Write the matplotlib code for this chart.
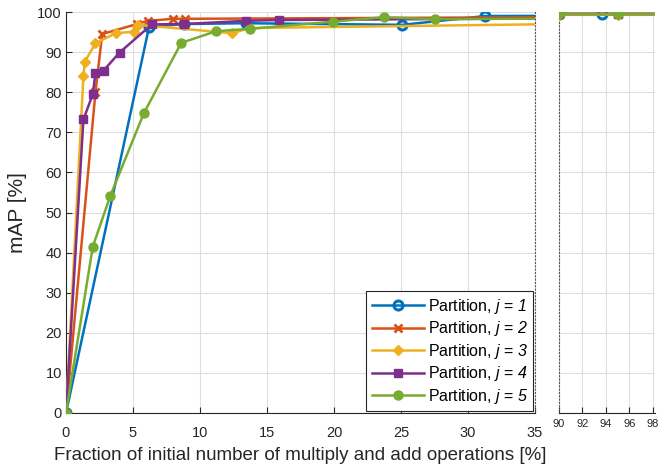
import matplotlib
matplotlib.use("Agg")
import matplotlib.pyplot as plt

plt.rcParams['font.family'] = ['Liberation Sans', 'DejaVu Sans']
plt.rcParams['mathtext.fontset'] = 'custom'
plt.rcParams['mathtext.it'] = 'Liberation Sans:italic'
plt.rcParams['mathtext.rm'] = 'Liberation Sans:italic'
plt.rcParams['mathtext.default'] = 'it'

# ---- data ----
x1 = [0, 6.2, 8.8, 13.4, 25.1, 31.3, 90, 93.7, 100]
y1 = [0, 96.3, 97.0, 97.2, 96.8, 99.0, 99.5, 99.5, 99.5]

x2 = [0, 2.2, 2.7, 5.3, 6.1, 8.0, 8.9, 90, 95, 100]
y2 = [0, 80.0, 94.5, 97.0, 97.8, 98.3, 98.3, 99.5, 99.5, 99.5]

x3 = [0, 1.3, 1.4, 2.2, 3.7, 5.1, 5.4, 12.4, 13.7, 90, 95, 100]
y3 = [0, 84.0, 87.6, 92.2, 94.7, 95.1, 96.8, 94.7, 96.0, 99.3, 99.3, 99.3]

x4 = [0, 1.3, 2.0, 2.2, 2.8, 4.0, 6.4, 8.8, 13.4, 15.9, 90, 95, 100]
y4 = [0, 73.2, 79.5, 84.9, 85.4, 89.9, 96.9, 97.0, 97.8, 98.0, 99.5, 99.5, 99.5]

x5 = [0, 2.0, 3.3, 5.8, 8.6, 11.2, 13.7, 19.95, 23.7, 27.5, 90, 95, 100]
y5 = [0, 41.5, 54.1, 74.7, 92.3, 95.2, 95.8, 97.6, 98.7, 98.2, 99.5, 99.5, 99.5]

labels = ['Partition, $j$ = $1$', 'Partition, $j$ = $2$',
          'Partition, $j$ = $3$', 'Partition, $j$ = $4$',
          'Partition, $j$ = $5$']
left_xticks = [0, 5, 10, 15, 20, 25, 30, 35]
right_xticks = [90, 92, 94, 96, 98]
yticks = [0, 10, 20, 30, 40, 50, 60, 70, 80, 90, 100]

colors = ['#0072BD', '#D95319', '#EDB120', '#7E2F8E', '#77AC30']
markers = ['o', 'x', 'D', 's', 'o']
msizes = [6.5, 5.5, 5.5, 5.5, 6.5]
series = [(x1, y1), (x2, y2), (x3, y3), (x4, y4), (x5, y5)]

W, H = 659, 466
fig = plt.figure(figsize=(W / 100, H / 100), dpi=100)
axL = fig.add_axes([66 / W, (H - 413) / H, (535 - 66) / W, (413 - 12) / H])
axR = fig.add_axes([559 / W, (H - 413) / H, (655 - 559) / W, (413 - 12) / H])

handles = []
for (x, y), c, m, ms in zip(series, colors, markers, msizes):
    for ax in (axL, axR):
        kw = dict(color=c, lw=1.8, marker=m, ms=ms, clip_on=True, zorder=3)
        if m == 'o' and c == '#0072BD':
            kw.update(mfc='none', mew=2.2)
        elif m == 'x':
            kw.update(mew=2.0)
        else:
            kw.update(mfc=c, mec=c)
        h, = ax.plot(x, y, **kw)
    handles.append(h)

for ax in (axL, axR):
    ax.set_ylim(0, 100)
    ax.set_yticks(yticks)
    ax.grid(True, color='#dedede', lw=0.8)
    ax.set_axisbelow(True)
    ax.tick_params(direction='in', length=4, color='#262626', width=0.8)
    ax.spines['top'].set_visible(False)
    ax.spines['bottom'].set_color('#262626')

axL.set_xlim(0, 35)
axL.set_xticks(left_xticks)
axL.tick_params(labelsize=10.5, labelcolor='#262626')
axL.tick_params(axis='x', pad=9.5)
axL.tick_params(axis='y', pad=3)
axL.spines['left'].set_color('#262626')
axL.spines['right'].set_linestyle((0, (1, 2)))
axL.spines['right'].set_color('#555555')
axL.spines['right'].set_linewidth(0.8)

axR.set_xlim(90, 98.2)
axR.set_xticks(right_xticks)
axR.tick_params(axis='x', labelsize=8, labelcolor='#262626', pad=4)
axR.tick_params(axis='y', left=False, labelleft=False)
axR.spines['left'].set_linestyle((0, (1, 2)))
axR.spines['left'].set_color('#555555')
axR.spines['left'].set_linewidth(0.8)
axR.spines['right'].set_visible(False)

axL.set_ylabel('mAP [%]', fontsize=15, color='#262626', labelpad=7)
axL.set_xlabel('Fraction of initial number of multiply and add operations [%]',
               fontsize=13.5, color='#262626', labelpad=5)

leg = axL.legend(handles, labels, loc='lower right', fontsize=11.5,
                 handlelength=3.3, frameon=True, fancybox=False,
                 edgecolor='#262626', borderaxespad=0.1, labelspacing=0.22,
                 borderpad=0.35, handletextpad=0.2)
leg.get_frame().set_linewidth(0.8)
leg.get_frame().set_alpha(1)
leg.set_zorder(10)

fig.savefig('out.png', dpi=100)
